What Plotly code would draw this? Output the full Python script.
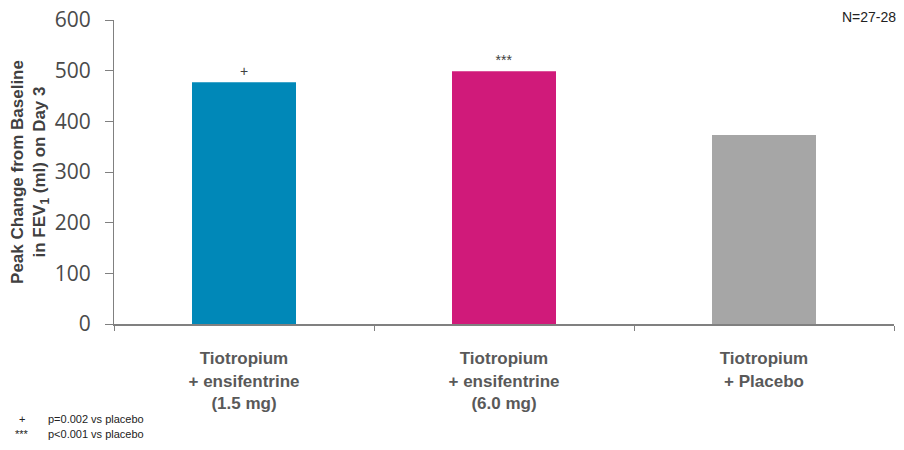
import plotly.graph_objects as go

categories = ["Tiotropium<br>+ ensifentrine<br>(1.5 mg)",
              "Tiotropium<br>+ ensifentrine<br>(6.0 mg)",
              "Tiotropium<br>+ Placebo"]
values = [477, 499, 373]
colors = ["#0088B8", "#D01A7A", "#A6A6A6"]
sig_labels = ["+", "***", ""]
y_ticks = [0, 100, 200, 300, 400, 500, 600]

fig = go.Figure()
fig.add_trace(go.Bar(
    x=categories, y=values, marker=dict(color=colors, line=dict(width=0)),
    width=0.4, text=sig_labels, textposition="outside",
    textfont=dict(family="Arial, Liberation Sans", size=14, color="#404040"),
    cliponaxis=False, showlegend=False, hoverinfo="skip",
))

fig.update_layout(
    width=904, height=450,
    margin=dict(l=114, r=10, t=20, b=126, autoexpand=False),
    paper_bgcolor="white", plot_bgcolor="white",
    xaxis=dict(
        automargin=False,
        showline=True, linecolor="#808080", linewidth=2,
        ticks="outside", tickson="boundaries", ticklen=5, tickcolor="#808080",
        tickvals=categories,
        ticktext=["<b>" + c.replace("<br>", "</b><br><b>") + "</b>" for c in categories],
        ticklabelstandoff=18,
        tickfont=dict(family="Liberation Sans Narrow, Arial Narrow, Arial", size=17, color="#595959"),
        showgrid=False,
    ),
    yaxis=dict(
        automargin=False,
        range=[0, 600], tickvals=y_ticks,
        showline=True, linecolor="#808080", linewidth=1,
        ticks="outside", ticklen=8, tickcolor="#808080",
        ticklabelstandoff=10,
        tickfont=dict(family="Open Sans, Lato", size=21, color="#4a4a4a"),
        showgrid=False, zeroline=False,
        title=dict(text="<b>Peak Change from Baseline<br>in FEV<sub>1</sub> (ml) on Day 3</b>",
                   font=dict(family="Arial, Liberation Sans", size=17, color="#404040"),
                   standoff=4),
    ),
)

fig.add_annotation(text="N=27-28", xref="paper", yref="paper", x=1.0, y=1.0,
                   xanchor="right", yanchor="middle", showarrow=False,
                   font=dict(family="Arial, Liberation Sans", size=14, color="#222222"),
                   xshift=4, yshift=3)
foot_syms = ["+", "***"]
foot_text = ["p=0.002 vs placebo", "p<0.001 vs placebo"]
for i, (s, t) in enumerate(zip(foot_syms, foot_text)):
    fig.add_annotation(text=s, xref="paper", yref="paper", x=0, y=0,
                       xanchor="center", yanchor="middle", showarrow=False,
                       font=dict(family="Arial, Liberation Sans", size=11, color="#222222"),
                       xshift=-92, yshift=-95 - 15 * i)
    fig.add_annotation(text=t, xref="paper", yref="paper", x=0, y=0,
                       xanchor="left", yanchor="middle", showarrow=False,
                       font=dict(family="Arial, Liberation Sans", size=11, color="#222222"),
                       xshift=-68, yshift=-95 - 15 * i)

fig.write_html("out.html", config={"displayModeBar": False},
               post_script="document.body.style.margin='0';")
